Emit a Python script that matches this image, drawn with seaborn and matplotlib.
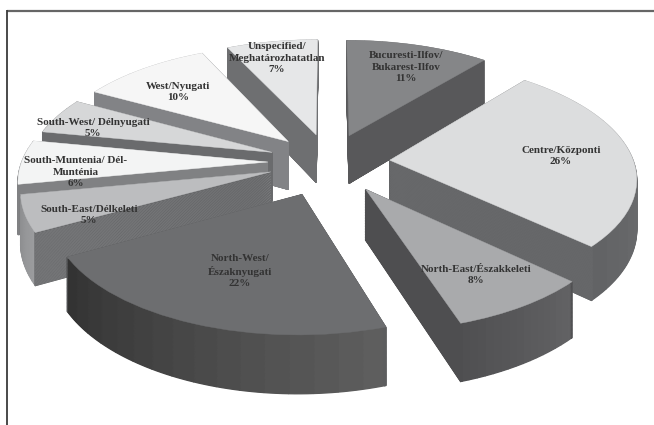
import numpy as np
import matplotlib
matplotlib.use("Agg")
import matplotlib.pyplot as plt
from matplotlib.colors import to_hex, to_rgb
from matplotlib.path import Path
from matplotlib.transforms import Transform
import seaborn as sns

sns.set_theme(style="white")
plt.rcParams['font.family'] = ['Liberation Serif', 'DejaVu Serif']

regions = ["Bucuresti-Ilfov/\nBukarest-Ilfov", "Centre/Központi", "North-East/Északkeleti",
           "North-West/\nÉszaknyugati", "South-East/Délkeleti", "South-Muntenia/ Dél-\nMunténia",
           "South-West/ Délnyugati", "West/Nyugati", "Unspecified/\nMeghatározhatatlan"]
shares = [11, 26, 8, 22, 5, 6, 5, 10, 7]

top_colors = ["#858688", "#dcddde", "#a9aaac", "#6d6e70", "#bcbdbf", "#f3f4f4", "#d6d7d8", "#f6f6f6", "#e6e7e8"]
radial_colors = ["#58585a", "#68696b", "#4e4e50", "#5c5d5f", "#68696b", "#808183", "#6a6b6d", "#828386", "#6e6f71"]
outer_from = ["#6a6a6c", "#7a7b7d", "#626264", "#5e5e5e", "#9c9d9f", "#808183", "#6a6b6d", "#828386", "#6e6f71"]
outer_to = ["#58585a", "#626365", "#505052", "#333333", "#8c8d8f", "#808183", "#6a6b6d", "#828386", "#6e6f71"]
label_xy = [(406, 67), (561, 156), (476, 275), (240, 271), (89, 215), (76, 172), (93, 128), (178, 92), (277, 58)]
explode = [0.25, 0.25, 0.27, 0.29, 0.25, 0.25, 0.25, 0.25, 0.25]
radius = [1.0, 1.0, 1.0, 0.98, 1.0, 1.01, 1.0, 1.0, 1.0]

X0, Y0, RX, RY, K, DEPTH = 329.0, 162.0, 244.0, 115.0, 0.135, 49.0
LAYERS = 70
SEGMENTS = 16


class Perspective(Transform):
    input_dims = output_dims = 2

    def __init__(self, z):
        super().__init__()
        self.z = z

    def transform_non_affine(self, values):
        v = np.asarray(values, float)
        w = 1.0 / (1.0 + K * v[:, 1])
        return np.column_stack([X0 + RX * v[:, 0] * w,
                                Y0 + (self.z * DEPTH - RY * v[:, 1]) * w])

    def transform_path_non_affine(self, path):
        return Path(self.transform_non_affine(path.vertices), path.codes)


fig = plt.figure(figsize=(6.54, 4.25), dpi=100)
ax = fig.add_axes([0, 0, 1, 1])


def piece(frac, start_pct, color, z, mid_pct, push, size, lw):
    """One wedge from ax.pie, pushed out along its slice's bisector."""
    angle = 90 - start_pct * 3.6
    bis = np.deg2rad(90 - mid_pct * 3.6)
    wedges, _ = ax.pie([frac / 100], normalize=False, startangle=angle, counterclock=False,
                       colors=[color], center=(push * np.cos(bis), push * np.sin(bis)),
                       radius=size, frame=True)
    for wedge in wedges:
        wedge.set_transform(Perspective(z) + ax.transData)
        wedge.set_edgecolor(color)
        wedge.set_linewidth(lw)
        wedge.set_clip_on(False)


starts = np.concatenate([[0], np.cumsum(shares)[:-1]])
mids = starts + np.array(shares) / 2
order = sorted(range(len(shares)), key=lambda i: -np.cos(np.deg2rad(mids[i] * 3.6)))

for i in order:
    c0 = np.array(to_rgb(outer_from[i]))
    c1 = np.array(to_rgb(outer_to[i]))
    for z in np.linspace(1, 0, LAYERS)[:-1]:
        for s in range(SEGMENTS):
            t = s / (SEGMENTS - 1)
            piece(shares[i] / SEGMENTS, starts[i] + s * shares[i] / SEGMENTS,
                  to_hex(c0 * (1 - t) + c1 * t), z, mids[i], explode[i], radius[i], 0.9)
        for edge in (starts[i], starts[i] + shares[i] - 0.1):
            piece(0.1, edge, radial_colors[i], z, mids[i], explode[i], radius[i], 0.9)
    piece(shares[i], starts[i], top_colors[i], 0, mids[i], explode[i], radius[i], 0.3)

for name, share, (x, y) in zip(regions, shares, label_xy):
    ax.text(x, y, f"{name}\n{share}%", ha="center", va="center", fontsize=8.0, fontweight="bold",
            color="#333333", linespacing=1.3)

ax.set_aspect("auto")
ax.set_xlim(0, 654)
ax.set_ylim(425, 0)
ax.set_xticks([])
ax.set_yticks([])
for sp in ax.spines.values():
    sp.set_visible(False)
ax.plot([7, 654], [11, 11], color="#666666", lw=1.6, solid_capstyle="butt")
ax.plot([7, 7], [10, 425], color="#3a3a3a", lw=1.3, solid_capstyle="butt")
fig.savefig("out.png", dpi=100)
